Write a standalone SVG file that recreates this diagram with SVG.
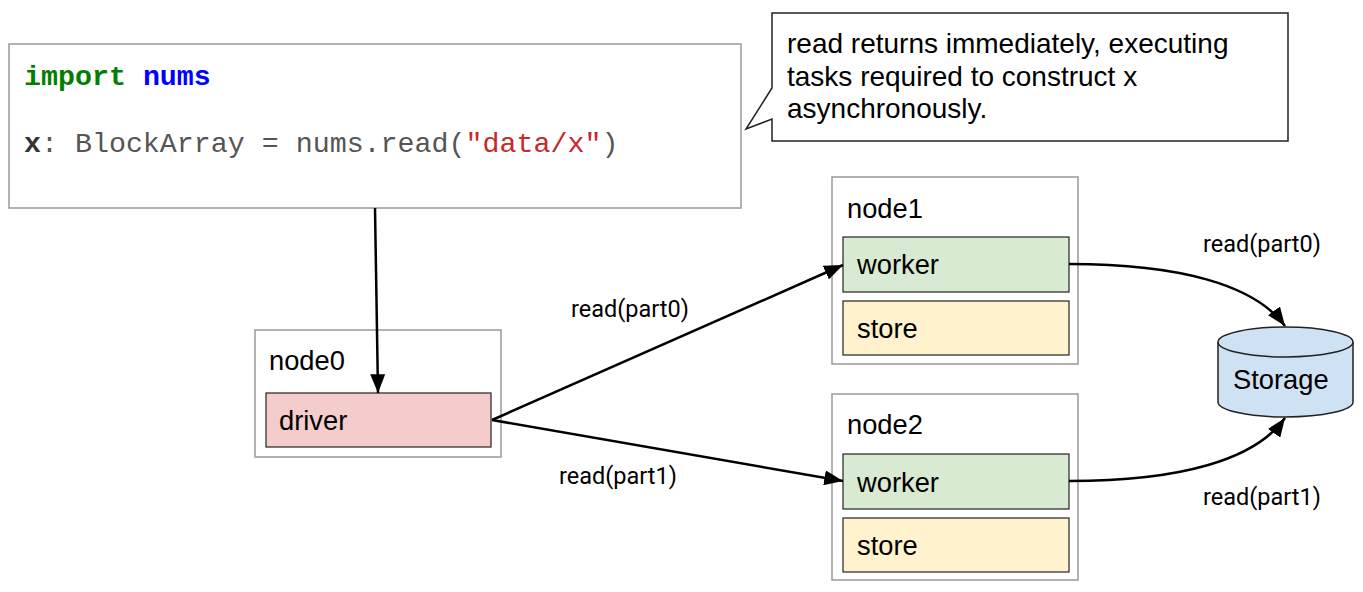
<svg xmlns="http://www.w3.org/2000/svg" width="1363" height="592" viewBox="0 0 1363 592">
<defs>
<marker id="arr" viewBox="0 0 10 10" refX="10" refY="5" markerWidth="7.5" markerHeight="6" markerUnits="strokeWidth" orient="auto" preserveAspectRatio="none">
<path d="M0,0 L10,5 L0,10 z" fill="#000"/>
</marker>
<style>
.outer{fill:#fff;stroke:#999;stroke-width:1.5}
.inner{stroke:#222;stroke-width:1.2}
.lbl{font-family:"Liberation Sans",Arial,sans-serif;font-size:27.3px;fill:#000}
.note{font-family:"Liberation Sans",Arial,sans-serif;font-size:28px;fill:#000}
.elbl{font-family:Roboto,"Liberation Sans",sans-serif;font-size:23.5px;fill:#000}
.code{font-family:"Liberation Mono","Courier New",monospace;font-size:28.3px}
.conn{fill:none;stroke:#000;stroke-width:2.5;marker-end:url(#arr)}
</style>
</defs>
<rect width="1363" height="592" fill="#fff"/>

<g id="code">
<rect x="9" y="44" width="732" height="164" class="outer"/>
<text class="code" x="24" y="85"><tspan fill="#008000" font-weight="bold">import</tspan> <tspan fill="#0000ff" font-weight="bold">nums</tspan></text>
<text class="code" x="24" y="152" fill="#555"><tspan font-weight="bold" fill="#333">x</tspan>: BlockArray = nums.read(<tspan fill="#c8272b">"data/x"</tspan>)</text>
</g>

<g id="callout">
<path d="M772,13 H1288 V141 H772 V119 L746,129 L772,88 Z" fill="#fff" stroke="#222" stroke-width="1.5"/>
<text class="note" x="787" y="53">read returns immediately, executing</text>
<text class="note" x="787" y="86">tasks required to construct x</text>
<text class="note" x="787" y="118">asynchronously.</text>
</g>

<g id="node0">
<rect x="255" y="330" width="246" height="127" class="outer"/>
<text class="lbl" x="269" y="370">node0</text>
<rect x="266" y="393" width="225" height="54" fill="#f4cccc" class="inner"/>
<text class="lbl" x="279" y="430">driver</text>
</g>

<g id="node1">
<rect x="832" y="177" width="246" height="187" class="outer"/>
<text class="lbl" x="847" y="218">node1</text>
<rect x="843" y="237" width="226" height="55" fill="#d9ead3" class="inner"/>
<text class="lbl" x="857" y="274">worker</text>
<rect x="843" y="301" width="226" height="54" fill="#fff2cc" class="inner"/>
<text class="lbl" x="857" y="338">store</text>
</g>

<g id="node2">
<rect x="832" y="394" width="246" height="186" class="outer"/>
<text class="lbl" x="847" y="434">node2</text>
<rect x="843" y="454" width="226" height="55" fill="#d9ead3" class="inner"/>
<text class="lbl" x="857" y="492">worker</text>
<rect x="843" y="518" width="226" height="54" fill="#fff2cc" class="inner"/>
<text class="lbl" x="857" y="555">store</text>
</g>

<g id="storage">
<path d="M1218,342 V402 A67.5,15 0 0 0 1353,402 V342" fill="#cfe2f3" stroke="#222" stroke-width="1.5"/>
<ellipse cx="1285.5" cy="342" rx="67.5" ry="15" fill="#cfe2f3" stroke="#222" stroke-width="1.5"/>
<text class="lbl" x="1233" y="389">Storage</text>
</g>

<g id="connectors">
<path class="conn" d="M375,208 L378,393"/>
<path class="conn" d="M492,420 L843,265"/>
<path class="conn" d="M492,420 L843,481"/>
<path class="conn" d="M1069,264 C1180,264 1255,285 1285,326"/>
<path class="conn" d="M1069,481 C1180,481 1255,460 1285,418"/>
<text class="elbl" x="571" y="317">read(part0)</text>
<text class="elbl" x="559" y="484">read(part1)</text>
<text class="elbl" x="1203" y="252">read(part0)</text>
<text class="elbl" x="1203" y="505">read(part1)</text>
</g>
</svg>
